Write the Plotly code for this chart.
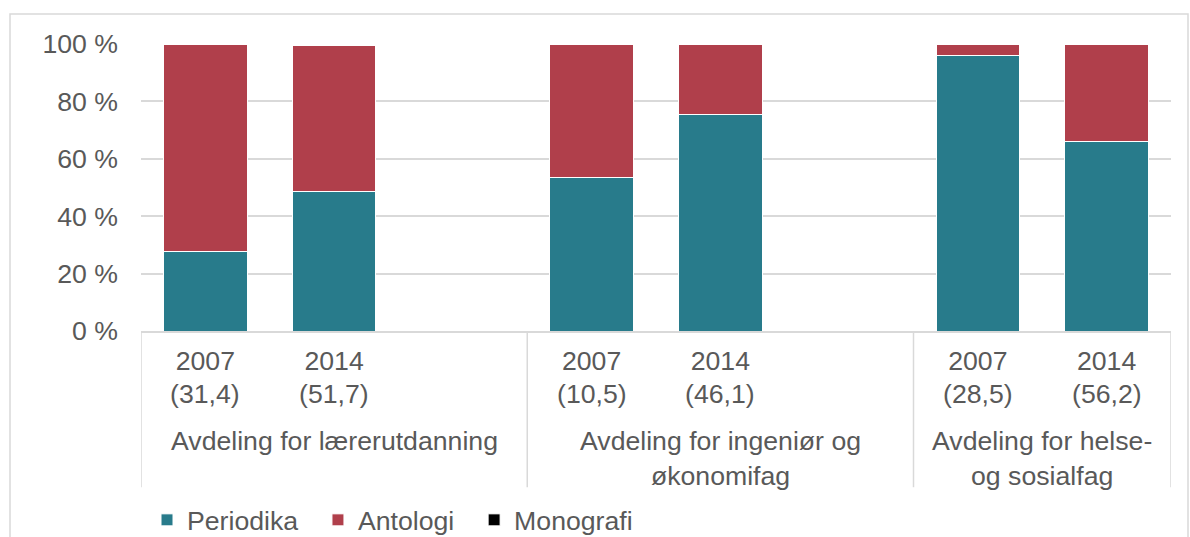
import plotly.graph_objects as go

# ---- data ----
years = ["2007", "2014", "2007", "2014", "2007", "2014"]
counts = ["31,4", "51,7", "10,5", "46,1", "28,5", "56,2"]
groups = ["Avdeling for lærerutdanning",
          "Avdeling for ingeniør og<br>økonomifag",
          "Avdeling for helse-<br>og sosialfag"]
periodika = [27.8, 48.6, 53.6, 75.5, 95.9, 66.1]
antologi = [72.2, 50.9, 46.4, 24.5, 4.1, 33.9]
monografi = [0, 0, 0, 0, 0, 0]
y_ticks = [0, 20, 40, 60, 80, 100]
y_ticktext = ["0 %", "20 %", "40 %", "60 %", "80 %", "100 %"]
series_names = ["Periodika", "Antologi", "Monografi"]

# slot layout: each group gets two bars plus an empty slot between groups
group_sizes = [2, 2, 2]
positions = []
group_spans = []
pos = 0
for gi, n in enumerate(group_sizes):
    start = pos
    for k in range(n):
        positions.append(pos)
        pos += 1
    last = gi == len(group_sizes) - 1
    group_spans.append((start - 0.5, pos - 0.5 + (0 if last else 1)))
    if not last:
        pos += 1
x_min = -0.5
x_max = positions[-1] + 0.5

FONT = "Liberation Sans, Arial, sans-serif"
FS = 26.67
TXT = "#595959"
GRID = "#d9d9d9"
C_PER = "#287b8b"
C_ANT = "#b03f4b"
C_MON = "#000000"

fig = go.Figure()
pad = "\u00a0\u00a0"
for name, vals, col in [(series_names[0], periodika, C_PER),
                        (series_names[1], antologi, C_ANT),
                        (series_names[2], monografi, C_MON)]:
    fig.add_trace(go.Bar(x=positions, y=vals, name=name + pad, width=0.65,
                         marker=dict(color=col, line=dict(color="white", width=1))))

# plot geometry in px
W, H = 1190, 537
L, R, T, B = 141, 19, 44, 205.5
ph = H - T - B
pw = W - L - R

def py(p):
    return (H - B - p) / ph

def px(p):
    return (p - L) / pw

shapes = []
divs = [x_min] + [s[1] for s in group_spans[:-1]] + [x_max]
for d in divs:
    shapes.append(dict(type="line", xref="x", yref="paper", x0=d, x1=d,
                       y0=0, y1=py(488), line=dict(color=GRID, width=1.5)))
shapes.append(dict(type="rect", xref="paper", yref="paper",
                   x0=px(10), x1=px(1188), y0=py(560), y1=py(14),
                   line=dict(color=GRID, width=1.5), fillcolor="rgba(0,0,0,0)", layer="below"))

annotations = []
# second line of the category labels (sample size)
for p, c in zip(positions, counts):
    annotations.append(dict(x=p, xref="x", y=py(395), yref="paper",
                            yanchor="middle", xanchor="center", text=f"({c})", showarrow=False,
                            font=dict(family=FONT, size=FS, color=TXT)))
for (a, b), g in zip(group_spans, groups):
    annotations.append(dict(x=(a + b) / 2, xref="x", y=py(425), yref="paper",
                            yanchor="top", xanchor="center", text=g, showarrow=False,
                            font=dict(family=FONT, size=FS, color=TXT)))

fig.update_layout(
    width=W, height=H,
    margin=dict(l=L, r=R, t=T, b=B, autoexpand=False),
    paper_bgcolor="white", plot_bgcolor="white",
    barmode="stack",
    font=dict(family=FONT, size=FS, color=TXT),
    showlegend=True,
    legend=dict(orientation="h", x=px(147), xanchor="left",
                yref="container", y=(H - 520) / H, yanchor="middle",
                font=dict(family=FONT, size=FS, color=TXT), traceorder="normal",
                itemclick=False, bgcolor="rgba(0,0,0,0)"),
    xaxis=dict(range=[x_min, x_max], tickvals=positions, ticktext=years,
               showgrid=False, zeroline=False, showline=True, linecolor=GRID, linewidth=1.5,
               ticks="", ticklabelstandoff=5,
               tickfont=dict(family=FONT, size=FS, color=TXT), fixedrange=True),
    yaxis=dict(range=[0, 100], tickmode="array", tickvals=y_ticks, ticktext=y_ticktext,
               showgrid=True, gridcolor=GRID, gridwidth=1.5, zeroline=False, showline=False,
               ticks="", ticklabelstandoff=22,
               tickfont=dict(family=FONT, size=FS, color=TXT), fixedrange=True),
    shapes=shapes,
    annotations=annotations,
)

fig.write_html("out.html", config={"displayModeBar": False},
               post_script="document.body.style.margin='0';")
